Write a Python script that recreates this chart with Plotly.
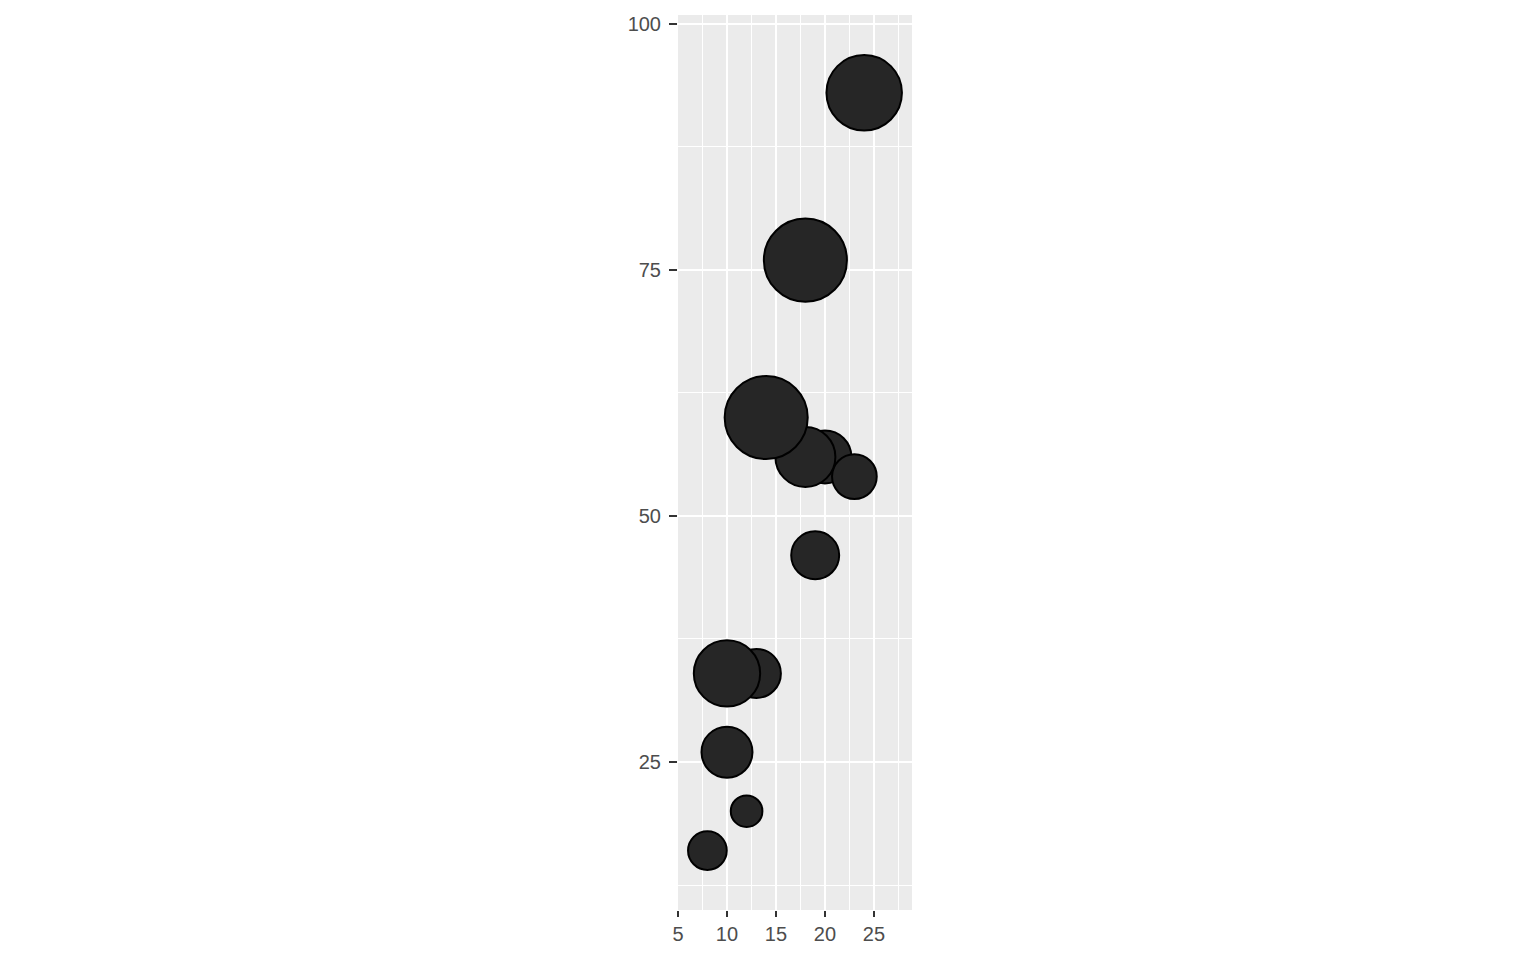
import plotly.graph_objects as go

# data (listed in drawing order; later points sit on top)
x_vals = [24, 18, 20, 23, 18, 14, 19, 13, 10, 10, 12, 8]
y_vals = [93, 76, 56, 54, 56, 60, 46, 34, 34, 26, 20, 16]
weights = [57, 69, 28, 20, 36, 69, 23, 24, 44, 26, 10, 15]

x_ticks = [5, 10, 15, 20, 25]
x_tick_labels = ["5", "10", "15", "20", "25"]
y_ticks = [25, 50, 75, 100]
y_tick_labels = ["25", "50", "75", "100"]

fig = go.Figure()
fig.add_trace(go.Scatter(
    x=x_vals, y=y_vals, mode="markers",
    marker=dict(size=weights, sizemode="area", sizeref=0.02,
                color="#262626", line=dict(color="black", width=2), opacity=1),
    hoverinfo="x+y", showlegend=False,
))

W, H = 1536, 960
left, right, top, bottom = 677.7, 911.7, 15, 910
fig.update_layout(
    width=W, height=H,
    margin=dict(l=left, r=W - right, t=top, b=H - bottom, pad=0),
    paper_bgcolor="white", plot_bgcolor="#EBEBEB",
    font=dict(family="Liberation Sans, Arial, sans-serif", size=20, color="#4D4D4D"),
    xaxis=dict(range=[5, 28.88], tickvals=x_ticks, ticktext=x_tick_labels,
               showgrid=True, gridcolor="white", gridwidth=2,
               minor=dict(tickvals=[7.5, 12.5, 17.5, 22.5, 27.5], showgrid=True,
                          gridcolor="white", gridwidth=1, ticks=""),
               ticks="outside", ticklen=6, tickwidth=2, tickcolor="#333333",
               ticklabelstandoff=0,
               zeroline=False, showline=False, fixedrange=True),
    yaxis=dict(range=[9.96, 100.91], tickvals=y_ticks, ticktext=y_tick_labels,
               showgrid=True, gridcolor="white", gridwidth=2,
               minor=dict(tickvals=[12.5, 37.5, 62.5, 87.5], showgrid=True,
                          gridcolor="white", gridwidth=1, ticks=""),
               ticks="outside", ticklen=8, tickwidth=2, tickcolor="#333333",
               ticklabelstandoff=4,
               zeroline=False, showline=False, fixedrange=True),
)
fig.write_html("out.html")
